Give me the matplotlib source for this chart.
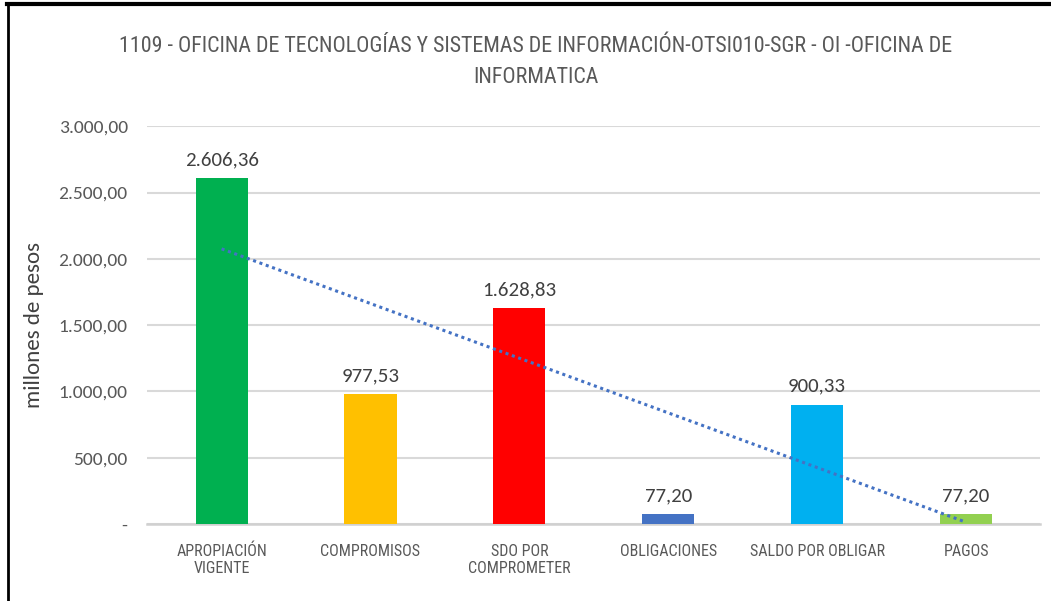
import numpy as np
import matplotlib.pyplot as plt
from matplotlib.lines import Line2D
from matplotlib.ticker import FuncFormatter

categories = ['APROPIACIÓN\nVIGENTE', 'COMPROMISOS', 'SDO POR\nCOMPROMETER',
              'OBLIGACIONES', 'SALDO POR OBLIGAR', 'PAGOS']
values = [2606.36, 977.53, 1628.83, 77.20, 900.33, 77.20]
colors = ['#00B050', '#FFC000', '#FF0000', '#4472C4', '#00B0F0', '#92D050']
yticks = [0, 500, 1000, 1500, 2000, 2500, 3000]
title = ('1109 - OFICINA DE TECNOLOGÍAS Y SISTEMAS DE INFORMACIÓN-OTSI010-SGR - OI -OFICINA DE\n'
         'INFORMATICA')

narrow = ['Roboto Condensed', 'Archivo Narrow', 'DejaVu Sans']
calibri = ['Carlito', 'DejaVu Sans']


def es_num(v):
    # 2606.36 -> 2.606,36
    s = f'{v:,.2f}'
    return s.replace(',', 'X').replace('.', ',').replace('X', '.')


def tick_fmt(v, pos):
    if v == 0:
        return '-'
    return es_num(v)


fig = plt.figure(figsize=(10.51, 6.01), dpi=100)
ax = fig.add_axes([0.14, 0.128, 0.85, 0.662])

x = np.arange(len(values))
ax.bar(x, values, width=0.35, color=colors, zorder=3)

# linear trend line (as in Excel)
k, b = np.polyfit(x, values, 1)
ax.plot(x, k * x + b, linestyle=(0, (1, 1.2)), color='#4472C4', linewidth=2.2, zorder=4)

for xi, v in zip(x, values):
    ax.text(xi, v + 75, es_num(v), ha='center', va='bottom', fontsize=15,
            color='#404040', family=calibri)

ax.set_xlim(-0.5, len(values) - 0.5)
ax.set_ylim(0, 3000)
ax.set_yticks(yticks)
ax.yaxis.set_major_formatter(FuncFormatter(tick_fmt))
ax.set_xticks(x)
ax.set_xticklabels(categories, family=narrow, fontsize=11.5, color='#595959')
for lbl in ax.get_yticklabels():
    lbl.set_family(calibri)
    lbl.set_fontsize(14)
    lbl.set_color('#595959')

ax.grid(axis='y', color='#D9D9D9', linewidth=1.5, zorder=0)
for s in ['top', 'right', 'left']:
    ax.spines[s].set_visible(False)
ax.spines['bottom'].set_color('#D0D0D0')
ax.spines['bottom'].set_linewidth(1.8)
ax.tick_params(axis='both', length=0)
ax.tick_params(axis='y', pad=14)
ax.tick_params(axis='x', pad=14)

ax.set_ylabel('millones de pesos', fontsize=16.5, color='#404040', family=calibri)
ax.yaxis.set_label_coords(-0.116, 0.5)

fig.text(0.51, 0.94, title, ha='center', va='top', fontsize=15.8, color='#595959',
         family=narrow, linespacing=1.62)

# outer frame (top and left edge)
fig.add_artist(Line2D([0.007, 1], [0.993, 0.993], color='black', linewidth=3,
                      transform=fig.transFigure))
fig.add_artist(Line2D([0.008, 0.008], [0, 0.993], color='black', linewidth=2,
                      transform=fig.transFigure))

fig.savefig('out.png', dpi=100)
